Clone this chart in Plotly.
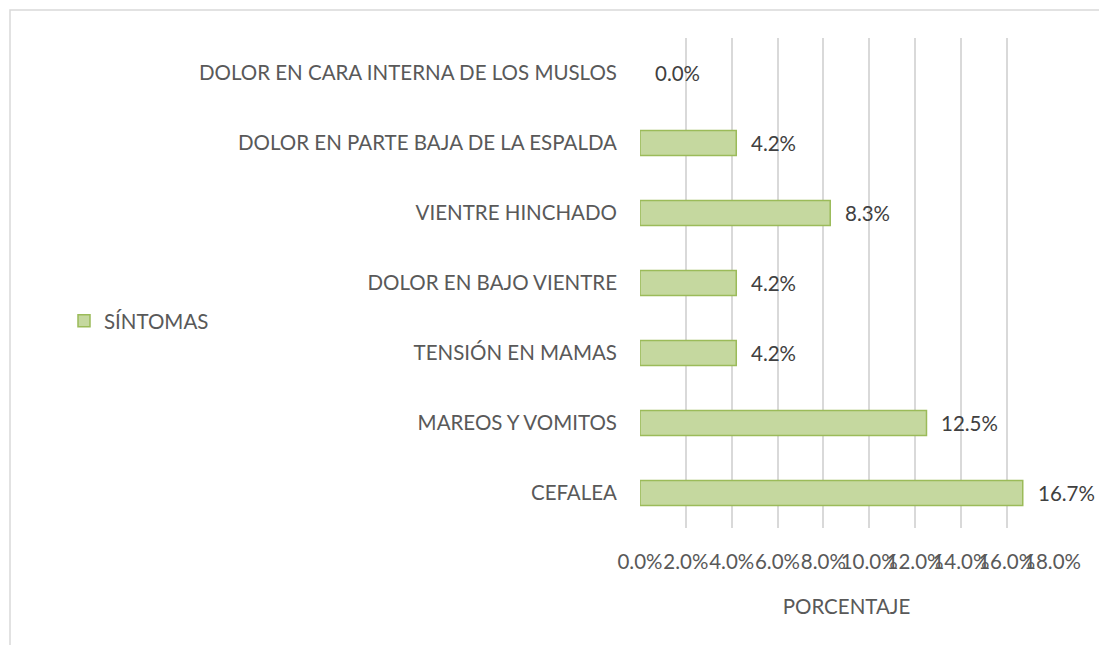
import plotly.graph_objects as go

categories = [
    "CEFALEA",
    "MAREOS Y VOMITOS",
    "TENSIÓN EN MAMAS",
    "DOLOR EN BAJO VIENTRE",
    "VIENTRE HINCHADO",
    "DOLOR EN PARTE BAJA DE LA ESPALDA",
    "DOLOR EN CARA INTERNA DE LOS MUSLOS",
]
values = [16.7, 12.5, 4.2, 4.2, 8.3, 4.2, 0.0]
series_name = "SÍNTOMAS"
x_ticks = [0, 2, 4, 6, 8, 10, 12, 14, 16, 18]

FONT = "Lato"
FS = 20.5
W, H = 1099, 645
ML, MR, MT, MB = 640, 46, 38, 117
PW, PH = W - ML - MR, H - MT - MB

def px_x(p):
    return (p - ML) / PW

def px_y(p):
    return (H - MB - p) / PH

fig = go.Figure()
fig.add_trace(go.Bar(
    y=categories,
    x=values,
    orientation="h",
    name=series_name,
    marker=dict(color="#C5D89F",
                line=dict(color="#9BBB59", width=[1.5 if v > 0 else 0 for v in values])),
    showlegend=True,
))

for c, v in zip(categories, values):
    fig.add_annotation(
        x=v, y=c, xref="x", yref="y", text=f"{v:.1f}%",
        showarrow=False, xanchor="left", yanchor="middle", xshift=13,
        font=dict(family=FONT, size=FS, color="#404040"),
    )

fig.add_shape(
    type="path",
    xref="paper", yref="paper",
    path=f"M {px_x(10)} {px_y(660)} L {px_x(10)} {px_y(10)} L {px_x(1120)} {px_y(10)}",
    line=dict(color="#D9D9D9", width=1.5),
)

fig.update_layout(
    width=W, height=H,
    margin=dict(l=ML, r=MR, t=MT, b=MB, autoexpand=False),
    paper_bgcolor="white",
    plot_bgcolor="white",
    bargap=0.64,
    font=dict(family=FONT, size=FS, color="#595959"),
    legend=dict(
        x=px_x(64), y=px_y(321), xanchor="left", yanchor="middle",
        itemwidth=30,
        font=dict(family=FONT, size=FS, color="#595959"),
        bgcolor="rgba(0,0,0,0)",
    ),
    xaxis=dict(
        range=[0, 18.02],
        tickvals=x_ticks,
        ticktext=[f"{t:.1f}%" for t in x_ticks],
        tickangle=0,
        showgrid=True, gridcolor="#D9D9D9", gridwidth=1.5,
        zeroline=False, showline=False,
        ticks="outside", ticklen=15, tickcolor="rgba(0,0,0,0)",
        tickfont=dict(family=FONT, size=FS, color="#595959"),
        title=dict(text="PORCENTAJE", standoff=28,
                   font=dict(family=FONT, size=FS, color="#595959")),
    ),
    yaxis=dict(
        showgrid=False, zeroline=False, showline=False,
        ticks="", ticklabelstandoff=22,
        tickfont=dict(family=FONT, size=FS, color="#595959"),
    ),
)

fig.write_html("out.html", config={"displayModeBar": False},
               post_script="document.body.style.margin='0';document.body.style.overflow='hidden';")
